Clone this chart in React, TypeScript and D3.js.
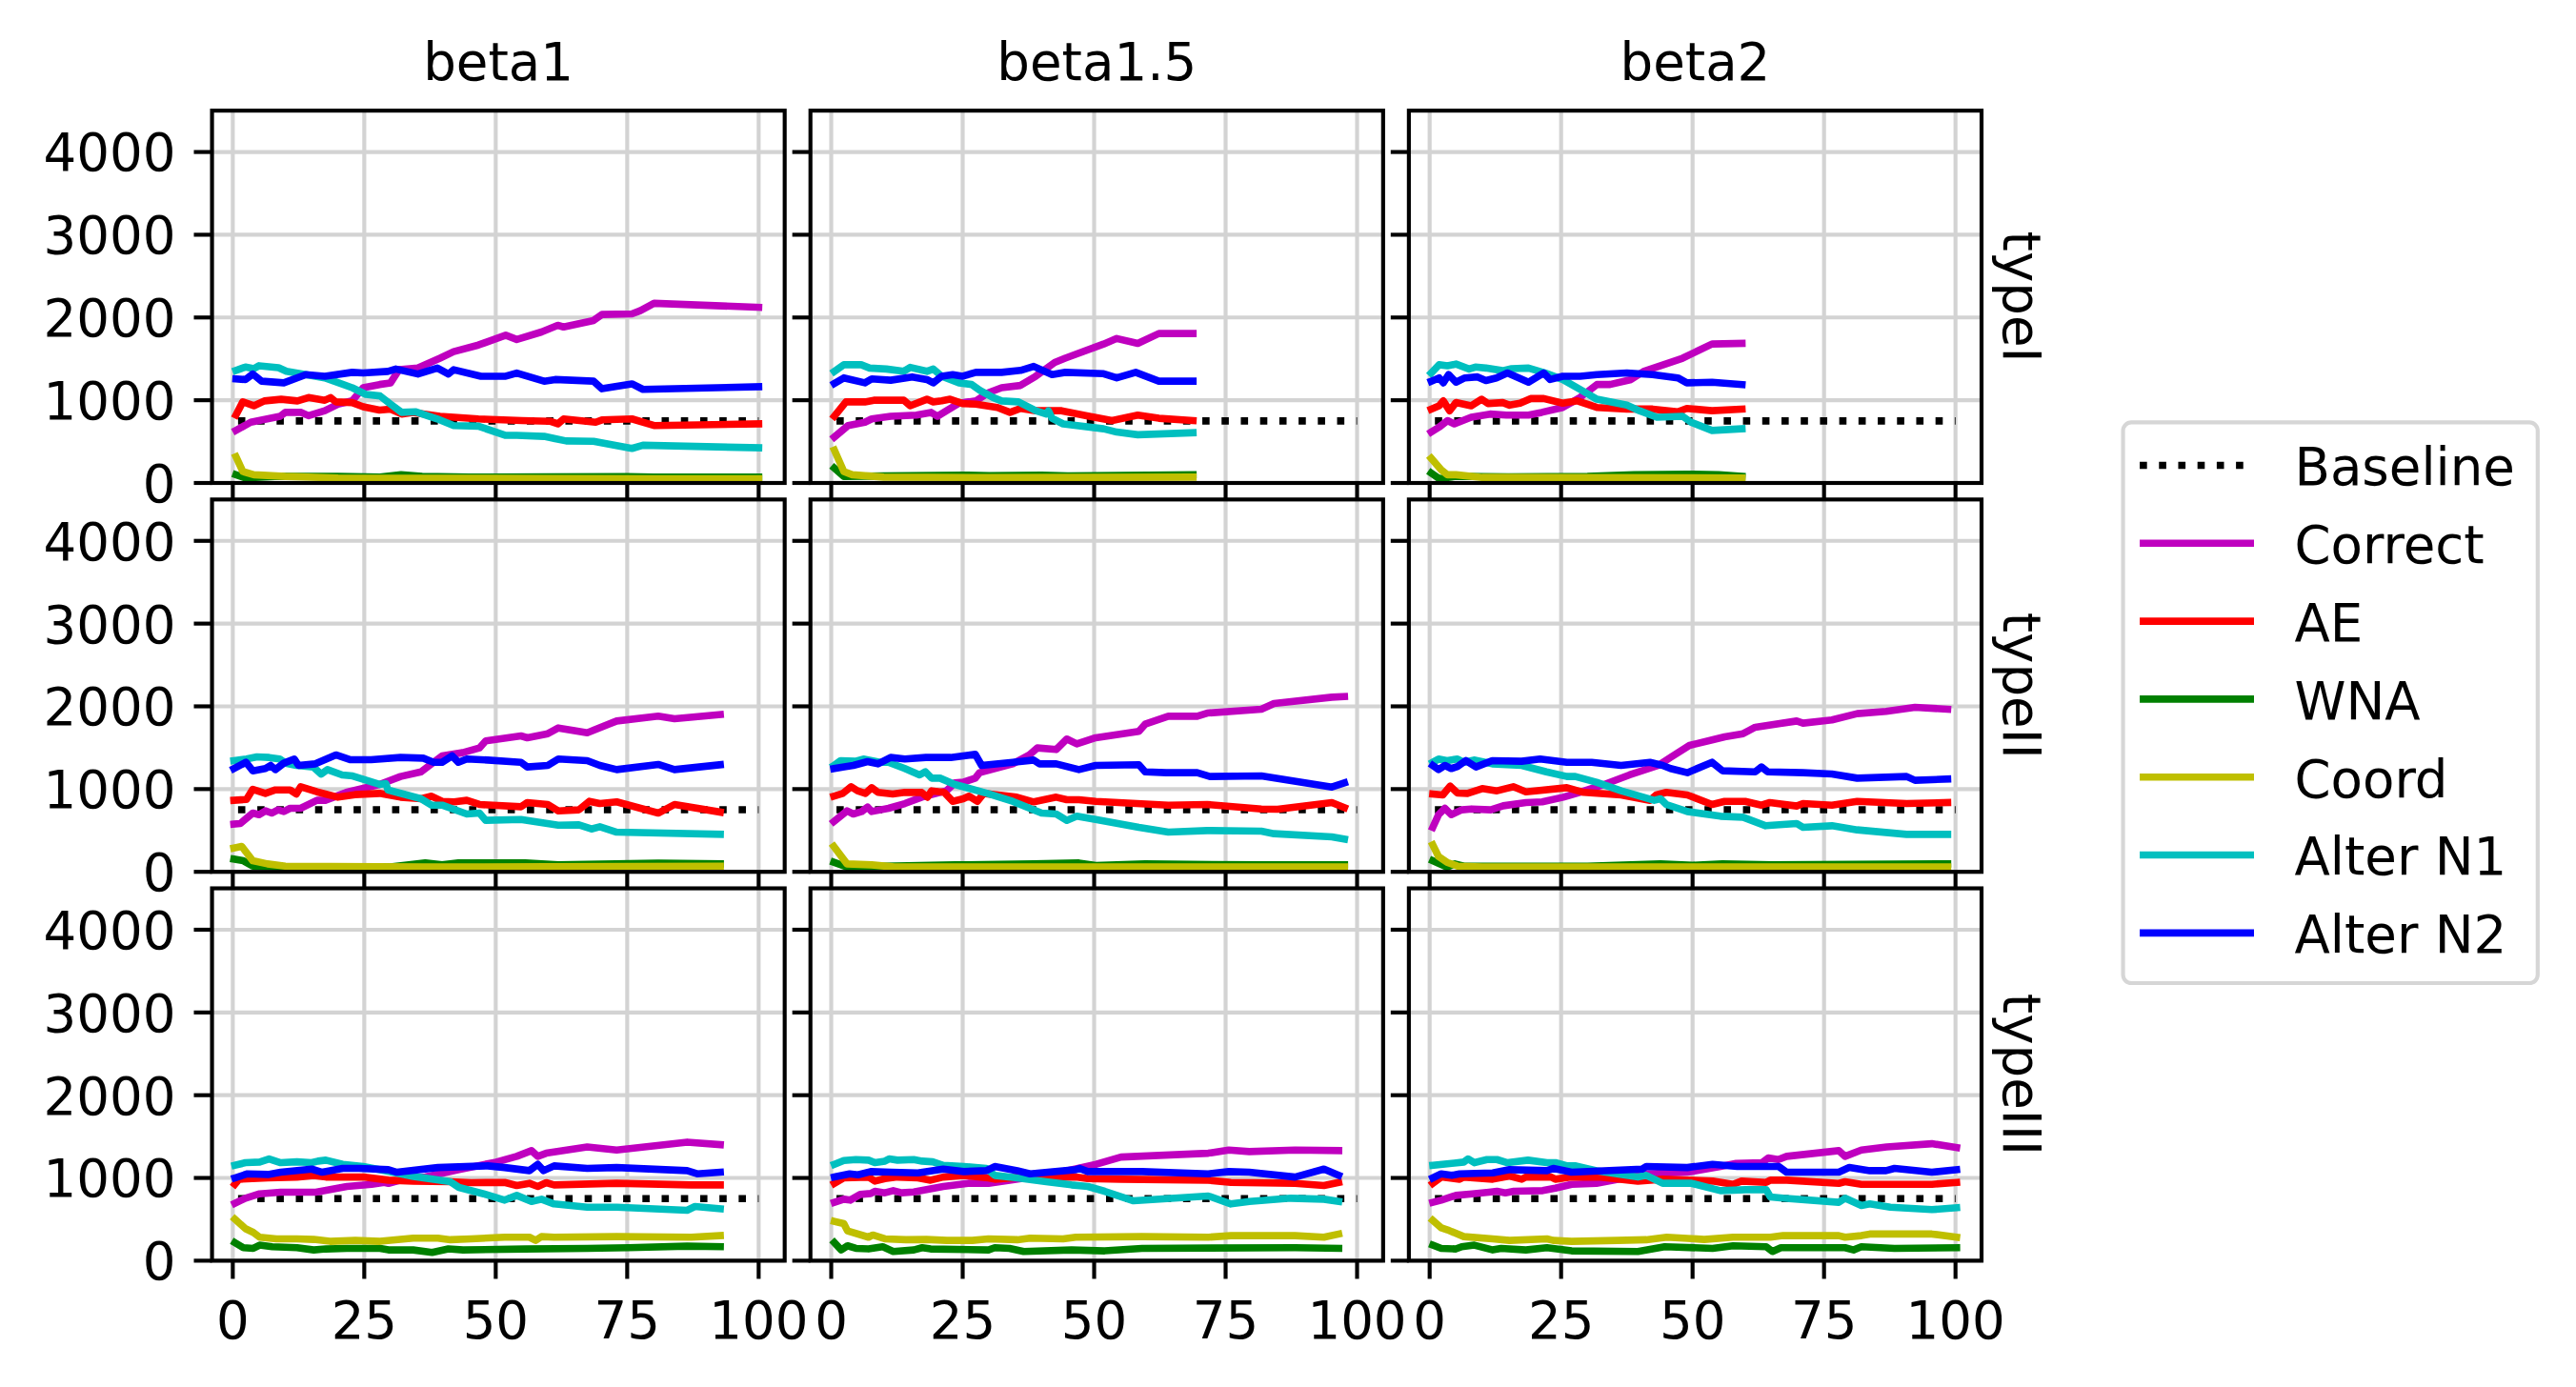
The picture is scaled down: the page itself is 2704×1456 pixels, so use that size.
import * as d3 from 'd3';

type Pt = [number, number];

const rowNames = ['typeI', 'typeII', 'typeIII'];
const colNames = ['beta1', 'beta1.5', 'beta2'];
const seriesNames = ['Correct', 'AE', 'WNA', 'Coord', 'Alter N1', 'Alter N2'];
const seriesColors = ['#bf00bf', '#ff0000', '#008000', '#bfbf00', '#00bfbf', '#0000ff'];
const baselineValue = 750;
const baselineSpan = [1, 100];
const xTicks = [0, 25, 50, 75, 100];
const yTicks = [0, 1000, 2000, 3000, 4000];

// each panel: [Correct, AE, WNA, Coord, Alter N1, Alter N2]
const typeI_beta1: Pt[][] = [
  [[0.6,635],[3.4,734],[9,806],[10,853],[13,853],[14.4,813],[17.5,873],[20,952],[22.7,992],[24.8,1151],[27.9,1190],[30,1210],[31.6,1369],[35.2,1389],[39.4,1508],[42,1587],[46.7,1667],[51.9,1786],[54,1734],[58.7,1825],[61.8,1905],[62.9,1885],[68.6,1964],[70.2,2036],[75.9,2044],[77.5,2083],[80.1,2171],[100,2123]],
  [[0.6,821],[1.9,980],[4,933],[6,992],[9.2,1012],[12.3,992],[14.4,1032],[17.5,1000],[18.6,1032],[19.6,980],[22.7,972],[24.8,921],[27.9,881],[30,893],[32.1,833],[34.2,853],[39.4,806],[46.7,774],[55,754],[60.3,746],[61.8,714],[62.9,774],[69,734],[70.2,762],[75.9,774],[80.1,694],[100,714]],
  [[0.6,99],[2.4,60],[8,79],[20,80],[28,72],[32,99],[36,80],[45,72],[60,75],[75,78],[80,70],[100,70]],
  [[0.6,317],[1.9,139],[4,99],[10,79],[20,60],[40,58],[60,55],[80,52],[100,52]],
  [[0.6,1361],[2.4,1401],[4,1381],[5,1417],[8.7,1393],[10.2,1349],[13.9,1310],[17.5,1270],[22.7,1151],[25.3,1071],[28,1052],[30,952],[32.1,853],[34.7,861],[38.9,774],[42,694],[46.7,686],[51.9,575],[54,575],[59.2,563],[61.3,536],[63.4,508],[68.6,504],[75.9,417],[78,456],[100,425]],
  [[0.6,1258],[2.4,1250],[3.8,1317],[5.5,1230],[9.7,1210],[13.9,1310],[17.5,1290],[22.7,1337],[24.8,1329],[29.5,1349],[31,1377],[35.2,1317],[38.9,1389],[41,1317],[42,1369],[47.2,1290],[51.9,1290],[54,1329],[59.2,1230],[61.3,1250],[68.6,1230],[70.2,1139],[75.9,1198],[78,1131],[100,1163]],
];

const typeI_beta15: Pt[][] = [
  [[0.6,555],[3.2,694],[6.4,734],[7.7,774],[11.3,806],[16.2,821],[19,853],[20.2,806],[21.9,873],[24.3,964],[27.5,992],[29.9,1091],[32.4,1151],[36,1179],[38.9,1290],[42.5,1456],[44.5,1508],[51.8,1679],[54.3,1746],[58.3,1687],[62.3,1806],[68.8,1806]],
  [[0.6,806],[2.8,980],[6.4,980],[8.1,1000],[13.8,1000],[15,933],[18.2,1012],[19.4,980],[21,992],[22.6,1012],[25,960],[27.5,952],[31.6,913],[34,853],[36,901],[38.9,873],[43.8,873],[48.6,813],[53.4,754],[58.3,821],[62.3,782],[68.8,754]],
  [[0.6,179],[2.4,79],[10,85],[20,90],[25,95],[30,88],[40,95],[45,85],[55,90],[60,95],[68.8,99]],
  [[0.6,397],[2.4,139],[4,99],[10,70],[30,65],[50,68],[68.8,70]],
  [[0.6,1349],[2.4,1429],[5.7,1429],[7.3,1389],[10.5,1377],[13.8,1349],[15,1397],[18.2,1349],[19.4,1377],[21,1290],[24.3,1210],[26.7,1190],[28.3,1119],[30.8,1032],[32.4,992],[35.6,980],[38.9,873],[40.9,833],[41.3,873],[42,782],[44.1,714],[51.8,655],[54.3,615],[58.3,583],[68.8,607]],
  [[0.6,1202],[2.4,1270],[6.4,1210],[7.7,1258],[11.3,1242],[15.4,1282],[18.2,1250],[19.4,1210],[21,1290],[23.1,1310],[25,1290],[27.5,1337],[32.4,1337],[36,1361],[38.5,1409],[42,1310],[44.5,1337],[51.8,1321],[54.3,1270],[57.9,1337],[62.3,1230],[68.8,1230]],
];

const typeI_beta2: Pt[][] = [
  [[0.3,615],[1.8,675],[3.4,754],[4.7,714],[7.9,794],[11.5,833],[14.6,821],[18.8,821],[21.3,853],[25.3,913],[28.6,1032],[31.8,1190],[34.3,1190],[38.3,1250],[40.7,1349],[48.1,1508],[53.7,1679],[59.4,1687]],
  [[0.3,893],[1.8,933],[2.6,992],[3.8,873],[5,972],[7.9,933],[9.9,1012],[11.1,960],[13.9,972],[15.2,940],[17.2,964],[19.2,1020],[21.7,1020],[25.3,964],[28.1,992],[31.8,913],[37.5,893],[42.4,893],[47.2,861],[48.9,901],[53.7,873],[59.4,893]],
  [[0.3,119],[1.8,52],[5,80],[15,75],[30,79],[38.9,99],[48.9,107],[55,100],[59.4,79]],
  [[0.3,298],[2.2,159],[3.4,99],[5,99],[10,67],[30,65],[50,62],[59.4,60]],
  [[0.3,1329],[1.8,1429],[3.4,1417],[5,1437],[7.5,1377],[8.7,1401],[10.7,1389],[13.9,1357],[15.6,1381],[18.8,1389],[22,1329],[25.3,1250],[28.6,1131],[31.8,1012],[37.5,940],[39.9,873],[43.2,794],[48.1,806],[49.7,734],[53.7,635],[59.4,655]],
  [[0.3,1230],[1.8,1270],[2.6,1210],[3.6,1310],[5,1218],[6.7,1270],[9.1,1282],[10.7,1238],[12.7,1270],[14.8,1329],[18.8,1218],[21.7,1329],[22.9,1250],[25.3,1290],[28.6,1290],[31.8,1310],[37.5,1329],[42.4,1310],[47.2,1270],[48.9,1210],[53.7,1218],[59.4,1190]],
];

const typeII_beta1: Pt[][] = [
  [[0.2,576],[1.4,583],[3.8,710],[5,691],[6.2,737],[7.4,710],[8.6,749],[9.7,729],[10.9,768],[12.9,768],[16,864],[17.6,864],[21.6,960],[27.9,1056],[31.9,1152],[35.8,1209],[37.4,1286],[39.8,1401],[43.7,1440],[46.9,1497],[48.1,1582],[54.8,1643],[56,1620],[59.9,1670],[61.9,1739],[67.4,1681],[73,1823],[80.9,1881],[84,1850],[92.7,1900]],
  [[0.2,864],[2.6,875],[3.8,998],[6.2,948],[8.1,990],[10.9,990],[12.1,941],[12.9,1029],[16,967],[20,902],[23.2,933],[27.9,948],[31.9,902],[35.8,883],[37.8,914],[39.8,852],[42.1,845],[44.5,864],[46.9,814],[54.8,787],[56,837],[59.9,814],[61.9,737],[65.8,749],[67.8,852],[69.8,825],[73,845],[80.9,710],[84,814],[92.7,722]],
  [[0.2,154],[2,134],[3.8,69],[10,58],[30,60],[36.6,107],[39.8,85],[42.9,107],[55.6,107],[61.9,84],[80.9,104],[92.7,96]],
  [[0.2,288],[1.7,307],[3.8,134],[6.6,96],[10,69],[36,58],[60,62],[92.7,69]],
  [[0.2,1344],[2.6,1363],[4.6,1390],[6.9,1382],[8.9,1363],[10.1,1313],[12.1,1286],[15.3,1267],[16.8,1182],[18,1236],[20.8,1171],[22.8,1159],[27.9,1056],[29.1,1067],[29.5,990],[35.8,883],[37.8,806],[39.8,806],[44.5,699],[46.9,710],[48.1,622],[54.8,633],[61.9,564],[65.8,568],[68.2,518],[69.8,545],[73,480],[92.7,453]],
  [[0.2,1248],[2.5,1324],[3.8,1221],[6.2,1248],[7.2,1286],[8.1,1236],[9.7,1313],[11.7,1363],[12.5,1286],[15.7,1305],[19.6,1413],[22.4,1355],[26.3,1355],[31.9,1382],[36.2,1374],[38.2,1324],[39.8,1324],[41.7,1401],[42.9,1324],[44.5,1363],[48.5,1351],[54.8,1324],[56,1267],[59.9,1286],[61.9,1363],[67.4,1344],[69.8,1286],[73,1236],[80.9,1298],[84,1236],[92.7,1294]],
];

const typeII_beta15: Pt[][] = [
  [[0.5,607],[3,737],[4.2,699],[5.8,729],[6.9,783],[7.7,729],[10.9,768],[14,825],[17.2,902],[21.9,979],[23.5,1075],[25.1,1083],[27.4,1132],[28.2,1198],[34.5,1305],[37.7,1413],[39.2,1497],[42.8,1478],[44.8,1605],[46.7,1547],[50.3,1620],[58.5,1697],[59.7,1785],[64.1,1881],[69.6,1881],[71.5,1919],[81.8,1965],[84.2,2035],[95.2,2111],[97.6,2119]],
  [[0.5,914],[2.2,948],[3.8,1029],[5,979],[6.5,948],[7.7,1017],[8.9,960],[11.7,941],[14,960],[17.2,960],[18.3,902],[19.1,979],[21.5,960],[23.1,852],[25.1,883],[26.2,914],[27.8,852],[29,948],[35.3,902],[38.5,845],[42.8,902],[44.8,871],[47.1,871],[50.3,852],[58.1,825],[64.1,806],[71.5,814],[81.8,760],[84.9,756],[95.2,837],[97.6,775]],
  [[0.5,115],[3,58],[10,69],[23.5,84],[38.5,96],[47.1,107],[50.3,77],[59.7,96],[81.8,84],[97.6,84]],
  [[0.5,307],[3,96],[7.7,84],[12,58],[50,58],[97.6,58]],
  [[0.5,1286],[1.8,1344],[4.6,1336],[6.1,1363],[9.3,1324],[10.9,1324],[14,1248],[16.8,1171],[17.9,1209],[19.1,1132],[20.7,1132],[23.5,1056],[29.7,948],[34.5,852],[40,710],[42.8,699],[44.8,622],[46.7,672],[50.3,633],[58.5,537],[64.1,480],[71.5,499],[81.8,491],[84.2,461],[95.2,422],[97.6,395]],
  [[0.5,1248],[2.2,1267],[4.2,1286],[6.9,1332],[8.9,1305],[11.3,1382],[14,1363],[18,1382],[22.7,1382],[27.4,1420],[28.6,1286],[34.5,1324],[38.5,1351],[39.6,1305],[42.8,1305],[47.1,1236],[50.3,1286],[58.5,1294],[59.7,1209],[63.7,1198],[69.6,1198],[72,1152],[81.8,1159],[95.2,1025],[97.6,1075]],
];

const typeII_beta2: Pt[][] = [
  [[0.6,537],[1.7,691],[2.9,768],[4.1,691],[6.1,749],[8,760],[11.6,749],[14,798],[18.3,837],[21.4,845],[25.4,902],[28.5,960],[33.2,1056],[38,1171],[43.5,1286],[45.8,1382],[49.4,1528],[53.7,1593],[56.1,1631],[59.6,1670],[61.9,1747],[69.8,1823],[71,1797],[76.5,1835],[81.3,1912],[86.8,1939],[92.3,1988],[98.5,1965]],
  [[0.6,941],[2.5,929],[3.9,1036],[5.3,952],[7.2,948],[10,1006],[12.8,979],[15.9,1029],[18.3,967],[26.1,1017],[29.3,960],[36.4,929],[41.9,864],[43.1,929],[45,960],[49,929],[53.7,814],[56.1,852],[60,852],[63.1,806],[64.7,837],[69.8,795],[71,825],[76.5,806],[81.3,852],[90.7,825],[98.5,837]],
  [[0.6,134],[3.3,58],[4.8,96],[6.5,69],[30,69],[43.9,96],[50,80],[55.7,96],[65,84],[98.5,96]],
  [[0.6,326],[1.7,184],[3.3,115],[5.3,69],[10,58],[98.5,58]],
  [[0.6,1324],[1.7,1363],[3.3,1344],[5.3,1363],[6.5,1324],[8.4,1351],[11.9,1305],[17.5,1286],[22.2,1209],[26.1,1152],[27.7,1152],[31.7,1083],[36.4,979],[42.7,864],[43.9,883],[45,814],[49,729],[55.3,672],[59.6,660],[63.9,557],[69.8,583],[71,537],[76.5,557],[81.3,507],[90.7,453],[98.5,453]],
  [[0.6,1286],[1.7,1236],[2.9,1286],[4.1,1248],[5.3,1274],[6.9,1344],[8.8,1267],[11.9,1344],[17.5,1336],[21,1363],[26.1,1324],[30.8,1324],[36.4,1286],[41.9,1324],[44.3,1286],[45.8,1248],[49,1198],[53.7,1324],[55.7,1221],[61.9,1209],[63.1,1267],[64.3,1209],[71,1198],[76.5,1182],[81.3,1132],[90.7,1152],[92.3,1106],[98.5,1121]],
];

const typeIII_beta1: Pt[][] = [
  [[0.4,693],[2.4,755],[5.1,808],[9.1,828],[15.8,828],[21.7,897],[26.4,923],[28.8,946],[29.6,935],[31.9,973],[36.6,1011],[43,1100],[50.1,1192],[54,1261],[56.8,1330],[58,1261],[59.6,1299],[67.4,1375],[73,1337],[86.4,1433],[92.7,1402]],
  [[0.4,923],[1.2,985],[6.7,1000],[12.2,1011],[15.4,1031],[17.7,1011],[24.8,1011],[29.6,973],[34.3,962],[41.4,954],[45.3,943],[51.7,946],[54,908],[56.4,935],[58,897],[59.6,943],[61.1,916],[73,935],[87.2,916],[92.7,916]],
  [[0.4,218],[2,157],[3.9,149],[5.1,188],[7.5,169],[12.2,157],[15.4,130],[17.7,142],[21.7,149],[28,149],[29.6,130],[34.3,130],[37.9,100],[41,142],[43.8,130],[55.6,142],[67.4,149],[75.3,157],[86.4,176],[92.7,169]],
  [[0.4,502],[2.4,387],[3.9,341],[5.1,284],[8.3,264],[12.2,264],[15.4,257],[18.5,234],[23.3,245],[28,234],[34.3,272],[39,272],[41.4,253],[45.3,264],[51.7,284],[56.4,284],[57.6,245],[58.7,291],[61.1,284],[73,291],[87.2,284],[92.7,303]],
  [[0.4,1153],[2.4,1184],[5.1,1192],[6.9,1230],[9.1,1184],[12.2,1195],[15,1184],[16.2,1203],[17.7,1215],[20.9,1165],[24.8,1138],[30.4,1069],[34.3,1019],[41.4,954],[43,885],[47.7,808],[51.7,732],[54,789],[56.8,716],[58.7,743],[61.1,686],[67.4,647],[73,647],[86.4,609],[87.9,655],[92.7,628]],
  [[0.4,1000],[2.8,1050],[6.7,1042],[9.1,1069],[15,1107],[17,1069],[20.9,1115],[24,1115],[29.6,1100],[31.2,1069],[39,1126],[48.5,1146],[51.7,1126],[56.4,1088],[58,1165],[59.1,1088],[61.1,1146],[67.4,1115],[73,1126],[86.4,1088],[88.3,1050],[92.7,1069]],
];

const typeIII_beta15: Pt[][] = [
  [[0.6,705],[2.4,743],[3.6,732],[5.5,801],[7.5,812],[8.3,839],[10.2,820],[11.8,847],[13.4,820],[15.7,831],[21.3,897],[26,935],[29.9,935],[37,1000],[44.9,1088],[50.4,1165],[55.1,1253],[71.7,1299],[75.6,1337],[79.5,1318],[88.2,1337],[96.5,1330]],
  [[0.6,935],[2.4,1000],[7.1,1011],[8.3,962],[10.2,992],[12.6,1011],[16.5,1000],[18.9,973],[21.3,1011],[25.2,1031],[29.9,1000],[31.1,985],[36.2,1011],[40.9,1011],[46.5,1011],[48.8,992],[55.1,985],[71.7,973],[76,946],[88.2,935],[93.7,908],[96.5,946]],
  [[0.6,218],[1.9,130],[3.1,180],[4.7,149],[7.1,142],[9.8,169],[11.8,111],[15.7,130],[17.3,157],[18.9,142],[29.9,130],[31.1,157],[33.9,149],[36.6,111],[45.7,130],[52,119],[59.1,149],[88.2,157],[96.5,149]],
  [[0.6,475],[2.4,448],[3.1,360],[7.1,284],[7.9,310],[10.2,264],[14.2,253],[18.1,257],[22,245],[26.8,245],[29.9,264],[35.4,253],[37.8,272],[44.1,264],[46.5,284],[59.1,291],[71.7,284],[76,303],[88.2,303],[93.7,284],[96.5,322]],
  [[0.6,1165],[2.4,1211],[4.7,1222],[7.1,1215],[8.3,1184],[10.2,1203],[11,1230],[12.6,1215],[15.7,1222],[17.3,1203],[19.3,1195],[21.3,1153],[25.2,1138],[29.5,1115],[31.1,1031],[35.4,1000],[40.9,954],[45.7,916],[48.8,897],[52,839],[57.5,724],[71.7,782],[76,686],[79.5,716],[87.4,755],[93.7,743],[96.5,716]],
  [[0.6,1011],[3.5,1050],[5.1,1038],[7.5,1077],[11.4,1069],[16.5,1061],[21.3,1107],[25.2,1077],[29.5,1088],[31.1,1138],[35.4,1088],[37.8,1050],[46.5,1100],[47.2,1115],[48.8,1077],[59.1,1077],[71.7,1050],[75.6,1077],[79.5,1069],[88.2,1011],[93.7,1107],[96.5,1031]],
];

const typeIII_beta2: Pt[][] = [
  [[0.6,705],[2.2,732],[5,789],[8.1,808],[11.3,828],[12.8,839],[14.4,820],[16,839],[21.5,847],[23.9,877],[27,923],[31.7,935],[36.5,992],[41.1,1050],[49,1069],[55.3,1138],[58.3,1176],[63.2,1184],[64.4,1241],[66.3,1222],[67.9,1261],[77.8,1330],[79,1261],[82.1,1337],[86.9,1375],[95.5,1414],[100.2,1368]],
  [[0.6,935],[2.2,1011],[5.7,985],[6.5,1011],[12,985],[15.2,1023],[17.5,985],[18.3,1011],[23.1,1011],[23.9,985],[27,1011],[32.5,1011],[39.6,962],[44.3,985],[53.8,962],[57.7,923],[59.3,962],[64,946],[64.8,973],[67.9,973],[77.8,935],[79,954],[82.1,923],[95.5,923],[100.2,946]],
  [[0.6,188],[2.2,149],[5,142],[6.1,169],[8.5,188],[12,130],[13.6,149],[18.3,130],[22.3,157],[27,119],[39.6,111],[44.7,169],[53.8,149],[57.7,180],[64,169],[65.2,111],[66.8,157],[79,157],[80.6,130],[82.1,169],[88.4,149],[100.2,157]],
  [[0.6,487],[2.2,398],[3.4,372],[6.5,291],[12,264],[15.2,245],[22.3,264],[23.5,245],[27,234],[35.7,245],[41.2,253],[45.1,284],[52.2,257],[57.7,284],[64.8,284],[67.2,303],[77.8,303],[79,284],[82.1,303],[83.7,322],[95.5,322],[100.2,284]],
  [[0.6,1153],[4.2,1176],[6.5,1192],[7.3,1230],[8.5,1184],[10.9,1222],[12.8,1222],[14.8,1184],[18.7,1215],[22.3,1184],[23.9,1184],[26.2,1146],[27.8,1146],[31.7,1088],[39.6,1011],[41.2,1031],[44.3,935],[49.8,935],[55.3,847],[60.1,858],[64,858],[64.8,770],[67.2,755],[77.8,705],[79,755],[82.1,667],[83.7,686],[87.6,647],[95.5,617],[100.2,640]],
  [[0.6,1000],[2.2,1050],[4.2,1031],[5.7,1050],[12,1061],[15.2,1100],[22.3,1088],[23.5,1115],[27,1069],[40.4,1107],[41.2,1138],[49,1126],[53.8,1165],[58.5,1138],[66.4,1138],[67.9,1069],[77.8,1069],[79.8,1126],[83.7,1088],[86.8,1088],[88.4,1115],[95.5,1069],[100.2,1100]],
];

const panels: Pt[][][][] = [
  [typeI_beta1, typeI_beta15, typeI_beta2],
  [typeII_beta1, typeII_beta15, typeII_beta2],
  [typeIII_beta1, typeIII_beta15, typeIII_beta2],
];

// layout in a 1560x840 box, scaled up to the 2704x1456 page
const W = 1560;
const H = 840;
const colLeft = [128.4, 490.8, 853.2];
const rowTop = [67, 302.5, 538];
const pw = 346.8;
const ph = 225.5;
const fs = 31.5;
const lw = 4.4;
const spineW = 2.4;
const tickLen = 11;

export default function App() {
  const legendX = 1285.7;
  const legendY = 255.8;
  const legendRow = 47.2;

  return (
    <div style={{ position: 'absolute', left: 0, top: 0 }}>
      <svg
        width={2704}
        height={1456}
        viewBox={`0 0 ${W} ${H}`}
        fontFamily="'DejaVu Sans', sans-serif"
        fontSize={fs}
      >
        <rect width={W} height={H} fill="#fff" />
        {panels.map((rowPanels, ri) =>
          rowPanels.map((series, ci) => {
            const x = d3.scaleLinear().domain([-3.95, 104.95]).range([colLeft[ci], colLeft[ci] + pw]);
            const y = d3.scaleLinear().domain([0, 4500]).range([rowTop[ri] + ph, rowTop[ri]]);
            const line = d3
              .line<Pt>()
              .x((d) => x(d[0]))
              .y((d) => y(d[1]));
            const bottom = rowTop[ri] + ph;
            return (
              <g key={`${ri}-${ci}`}>
                {xTicks.map((t) => (
                  <line key={`gx${t}`} x1={x(t)} x2={x(t)} y1={rowTop[ri]} y2={bottom} stroke="#d3d3d3" strokeWidth={2.4} />
                ))}
                {yTicks.map((t) => (
                  <line key={`gy${t}`} x1={colLeft[ci]} x2={colLeft[ci] + pw} y1={y(t)} y2={y(t)} stroke="#d3d3d3" strokeWidth={2.4} />
                ))}
                <path
                  d={line(baselineSpan.map((v) => [v, baselineValue] as Pt)) ?? ''}
                  fill="none"
                  stroke="#000"
                  strokeWidth={lw}
                  strokeDasharray={`${lw} ${lw * 1.65}`}
                />
                {series.map((pts, si) => (
                  <path
                    key={seriesNames[si]}
                    d={line(pts) ?? ''}
                    fill="none"
                    stroke={seriesColors[si]}
                    strokeWidth={lw}
                    strokeLinejoin="round"
                    strokeLinecap="square"
                  />
                ))}
                <rect x={colLeft[ci]} y={rowTop[ri]} width={pw} height={ph} fill="none" stroke="#000" strokeWidth={spineW} />
                {yTicks.map((t) => (
                  <line key={`ty${t}`} x1={colLeft[ci] - tickLen} x2={colLeft[ci]} y1={y(t)} y2={y(t)} stroke="#000" strokeWidth={spineW} />
                ))}
                {xTicks.map((t) => (
                  <line key={`tx${t}`} x1={x(t)} x2={x(t)} y1={bottom} y2={bottom + tickLen} stroke="#000" strokeWidth={spineW} />
                ))}
                {ci === 0 &&
                  yTicks.map((t) => (
                    <text key={`ly${t}`} x={colLeft[ci] - 22} y={y(t) + 11.5} textAnchor="end">
                      {t}
                    </text>
                  ))}
                {ri === 2 &&
                  xTicks.map((t) => (
                    <text key={`lx${t}`} x={x(t)} y={bottom + 47} textAnchor="middle">
                      {t}
                    </text>
                  ))}
                {ri === 0 && (
                  <text x={colLeft[ci] + pw / 2} y={rowTop[0] - 18.5} textAnchor="middle">
                    {colNames[ci]}
                  </text>
                )}
                {ci === 2 && (
                  <text
                    transform={`translate(${colLeft[2] + pw + 13},${rowTop[ri] + ph / 2}) rotate(90)`}
                    textAnchor="middle"
                  >
                    {rowNames[ri]}
                  </text>
                )}
              </g>
            );
          })
        )}

        <rect
          x={legendX}
          y={legendY}
          width={251.1}
          height={339.6}
          rx={5}
          fill="#fff"
          fillOpacity={0.8}
          stroke="#d6d6d6"
          strokeWidth={2.4}
        />
        {['Baseline', ...seriesNames].map((name, i) => {
          const cy = legendY + 26 + i * legendRow;
          const isBase = i === 0;
          return (
            <g key={name}>
              <line
                x1={legendX + 10.1}
                x2={legendX + 79.3}
                y1={cy}
                y2={cy}
                stroke={isBase ? '#000' : seriesColors[i - 1]}
                strokeWidth={lw}
                strokeDasharray={isBase ? `${lw} ${lw * 1.65}` : undefined}
              />
              <text x={legendX + 103.8} y={cy + 12}>
                {name}
              </text>
            </g>
          );
        })}
      </svg>
    </div>
  );
}
